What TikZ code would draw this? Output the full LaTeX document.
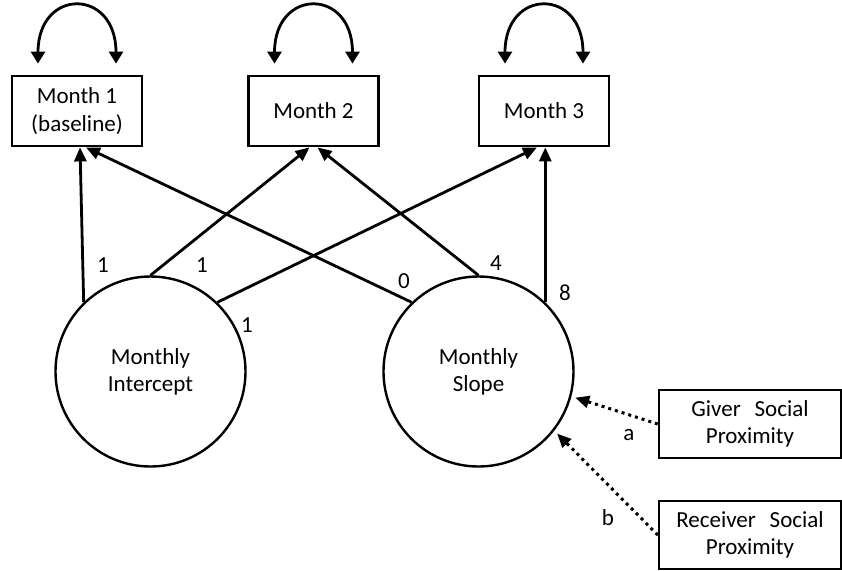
\documentclass[tikz,border=0pt]{standalone}
\usepackage{fontspec}
\setmainfont{Carlito}
\usetikzlibrary{arrows.meta}
\begin{document}
\begin{tikzpicture}[x=0.5pt,y=-0.5pt,
  every node/.style={font=\fontsize{11.5}{13.6}\selectfont},
  obs/.style={draw,line width=1.4pt,minimum width=65pt,minimum height=35pt,align=center,inner sep=2pt},
  pred/.style={draw,line width=1.2pt,minimum width=91pt,minimum height=34pt,align=center,inner sep=2pt},
  latent/.style={draw,circle,line width=1.2pt,minimum size=95pt,align=center,inner sep=0pt},
  path/.style={line width=1.4pt,-{Triangle[length=7pt,width=6pt]}},
  varloop/.style={line width=1.4pt,{Triangle[length=6pt,width=7pt]}-{Triangle[length=6pt,width=7pt]}},
  effect/.style={line width=1.5pt,dotted,-{Triangle[length=7pt,width=6pt]},shorten >=2pt},
  lab/.style={inner sep=0pt}]
\useasboundingbox (0,0) rectangle (842,570);

\node[obs] (m1) at (77,111) {Month 1\\(baseline)};
\node[obs] (m2) at (313.5,111) {Month 2};
\node[obs] (m3) at (544,111) {Month 3};

\node[latent] (int) at (150.5,371.5) {Monthly\\Intercept};
\node[latent] (slope) at (478.5,371.5) {Monthly\\Slope};

\node[pred] (giver) at (750,424) {Giver\hspace{0.6em}Social\\Proximity};
\node[pred] (recv) at (750,535) {Receiver\hspace{0.6em}Social\\Proximity};

% variance loops
\foreach \n in {m1,m2,m3}{
  \coordinate (\n-l) at ([xshift=-19.5pt,yshift=5.5pt]\n.north);
  \coordinate (\n-r) at ([xshift=19.5pt,yshift=5.5pt]\n.north);
  \draw[varloop] (\n-l) .. controls +(0,-76) and +(0,-76) .. (\n-r);
}

% loadings
\draw[path] (int.134) -- ([xshift=1.5pt]m1.south);
\draw[path] (int.north) -- ([xshift=-2pt]m2.south);
\draw[path] (int.46) -- ([xshift=-3.5pt]m3.south);
\draw[path] (slope.134) -- ([xshift=4.5pt]m1.south);
\draw[path] (slope.north) -- ([xshift=2pt]m2.south);
\draw[path] (slope.46) -- (slope.46 |- m3.south);

\node[lab] (l1) at (103,265) {1};
\node[lab] (l2) at (202,265) {1};
\node[lab] (l3) at (247,325) {1};
\node[lab] (l4) at (404,281) {0};
\node[lab] (l5) at (496,263) {4};
\node[lab] (l6) at (565,293) {8};

% predictors
\draw[effect] (giver.west) -- (slope.-15);
\draw[effect] (recv.west) -- (slope.-38);
\node[lab] (la) at (629,435) {a};
\node[lab] (lb) at (608,518) {b};
\end{tikzpicture}
\end{document}
